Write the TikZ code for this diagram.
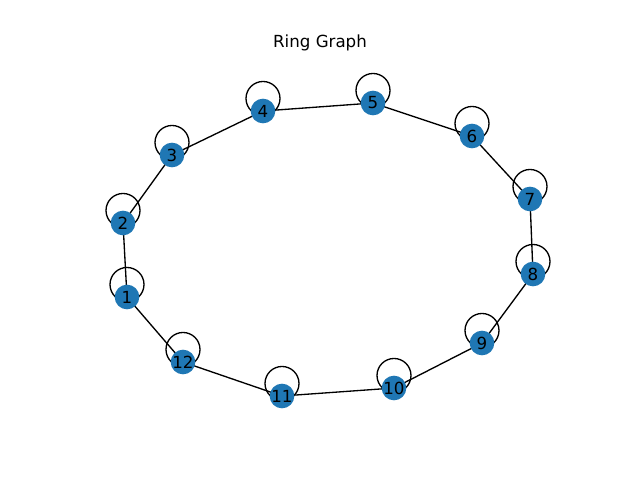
\documentclass[tikz,border=0pt]{standalone}
\usepackage{fontspec}
\setmainfont{DejaVu Sans}
\usetikzlibrary{backgrounds}
\definecolor{nodeblue}{HTML}{1F77B4}
\tikzset{
  vertex/.style={circle, fill=nodeblue, minimum size=18.5pt, inner sep=0pt,
    font=\fontsize{12.5}{15}\selectfont},
  ring/.style={line width=1pt},
}
\begin{document}
\begin{tikzpicture}[x=0.75pt,y=-0.75pt]
  \useasboundingbox (0,0) rectangle (640,480);
  \node (title) at (320,43) {\fontsize{12.5}{15}\selectfont Ring Graph};
  \foreach \n/\x/\y in {1/127/297, 2/123/223, 3/172/155, 4/263/111,
    5/373/103, 6/472/136, 7/530/199, 8/533/274, 9/482/343,
    10/394/388, 11/282/396, 12/183/362}{
    \node[vertex] (n\n) at (\x,\y) {\n};
  }
  \begin{scope}[on background layer]
  % boucles
  \foreach \n in {1,...,12}{
    \draw[ring] ([yshift=9.4pt]n\n.center) circle (12.75pt);
  }
  % anneau
  \foreach \a/\b in {1/2, 2/3, 3/4, 4/5, 5/6, 6/7, 7/8, 8/9, 9/10,
    10/11, 11/12, 12/1}
    \draw[ring] (n\a.center) -- (n\b.center);
  \end{scope}
\end{tikzpicture}
\end{document}
